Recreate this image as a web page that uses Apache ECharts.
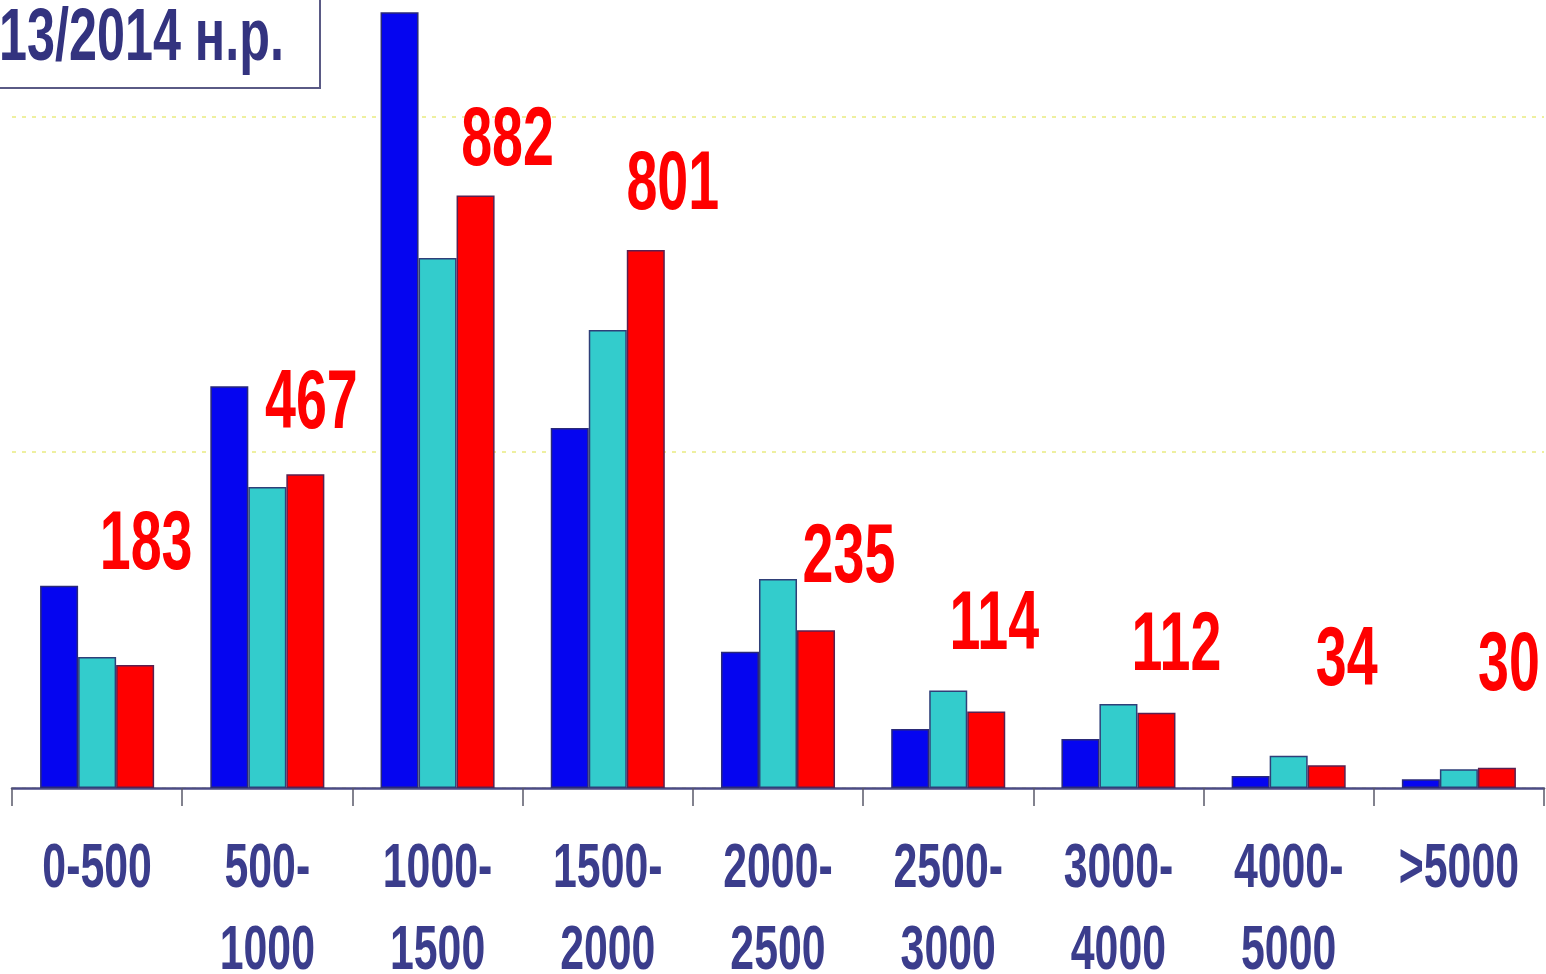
<!DOCTYPE html>
<html><head><meta charset="utf-8">
<script src="https://cdn.jsdelivr.net/npm/echarts@6/dist/echarts.min.js"></script>
<style>html,body{margin:0;padding:0;background:#fff;overflow:hidden}#c{width:1546px;height:974px}</style>
</head><body><div id="c"></div>
<script>
// ---- data ----
const categories = ['0-500', '500-\n1000', '1000-\n1500', '1500-\n2000', '2000-\n2500', '2500-\n3000', '3000-\n4000', '4000-\n5000', '>5000'];
const seriesBlue = [301, 598, 1155, 536, 203, 88, 73, 18, 13];
const seriesTeal = [195, 448, 789, 682, 311, 145, 125, 48, 28];
const seriesRed = [183, 467, 882, 801, 235, 114, 112, 34, 30];
const titleText = '13/2014 н.р.';
const yMax = 1200;
const yInterval = 500;

// ---- layout / style ----
// value-label nudges in px relative to the top centre of the red bar: [dx, dy]
const labelNudge = [[11, -119], [6, -69], [32, -53], [27, -64], [33, -71], [8, -85], [20, -66], [20, -103], [12, -101]];
const FONT = '"Liberation Sans", Arial, sans-serif';
const SQUEEZE = 0.67;   // horizontal condensing of the narrow typeface
const CAT_GAP = 0.33;

const chart = echarts.init(document.getElementById('c'));
chart.setOption({
  animation: false,
  backgroundColor: '#ffffff',
  grid: { left: 12, right: 2, top: -18, bottom: 186, containLabel: false, outerBoundsMode: 'none' },
  xAxis: {
    type: 'category',
    data: categories,
    axisLine: { show: true, lineStyle: { color: '#4b4b85', width: 2.5 } },
    axisTick: { show: true, length: 18, lineStyle: { color: '#5a5a6a', width: 1.5 } },
    axisLabel: { show: false }
  },
  yAxis: {
    type: 'value',
    min: 0,
    max: yMax,
    interval: yInterval,
    axisLine: { show: false },
    axisTick: { show: false },
    axisLabel: { show: false },
    splitLine: { show: true, lineStyle: { color: '#eef0a0', type: [4, 6], width: 2 } }
  },
  graphic: [
    { type: 'rect', z: 10, shape: { x: -3, y: -3, width: 323, height: 91 }, style: { fill: '#ffffff', stroke: '#5a5a85', lineWidth: 2 } },
    { type: 'text', z: 11, x: -1, y: 40, scaleX: 0.68, style: { text: titleText, font: 'bold 74px ' + FONT, fill: '#33337f', verticalAlign: 'middle', align: 'left' } }
  ],
  series: [
    { type: 'bar', data: seriesBlue, barGap: '0%', barCategoryGap: (CAT_GAP * 100) + '%',
      itemStyle: { color: '#0505f0', borderColor: '#2a2a78', borderWidth: 1.5 } },
    { type: 'bar', data: seriesTeal, barGap: '0%', barCategoryGap: (CAT_GAP * 100) + '%',
      itemStyle: { color: '#33cccc', borderColor: '#2f3f78', borderWidth: 1.5 } },
    { type: 'bar', data: seriesRed, barGap: '0%', barCategoryGap: (CAT_GAP * 100) + '%',
      itemStyle: { color: '#ff0000', borderColor: '#5a2050', borderWidth: 1.5 } },
    {
      // red value labels
      type: 'custom',
      silent: true,
      clip: false,
      z: 5,
      data: seriesRed.map((v, i) => [i, v]),
      encode: { x: 0, y: 1 },
      renderItem: function (params, api) {
        const i = api.value(0), v = api.value(1);
        const p = api.coord([i, v]);
        const catW = api.size([1, 0])[0];
        const barW = catW * (1 - CAT_GAP) / 3;
        const n = labelNudge[params.dataIndex];
        return {
          type: 'text',
          x: p[0] + barW + n[0],
          y: p[1] + n[1],
          scaleX: SQUEEZE,
          style: { text: String(v), font: 'bold 83px ' + FONT, fill: '#ff0000', align: 'center', verticalAlign: 'middle' }
        };
      }
    },
    {
      // category labels under the axis
      type: 'custom',
      silent: true,
      clip: false,
      z: 5,
      data: categories.map((c, i) => [i, 0]),
      encode: { x: 0, y: 1 },
      renderItem: function (params, api) {
        const i = params.dataIndex;
        const p = api.coord([i, 0]);
        return {
          type: 'text',
          x: p[0],
          y: p[1] + 41,
          scaleX: 0.68,
          style: { text: categories[i], font: 'bold 63px ' + FONT, lineHeight: 82, fill: '#3b3d8c', align: 'center', verticalAlign: 'top' }
        };
      }
    }
  ]
});
</script>
</body></html>
